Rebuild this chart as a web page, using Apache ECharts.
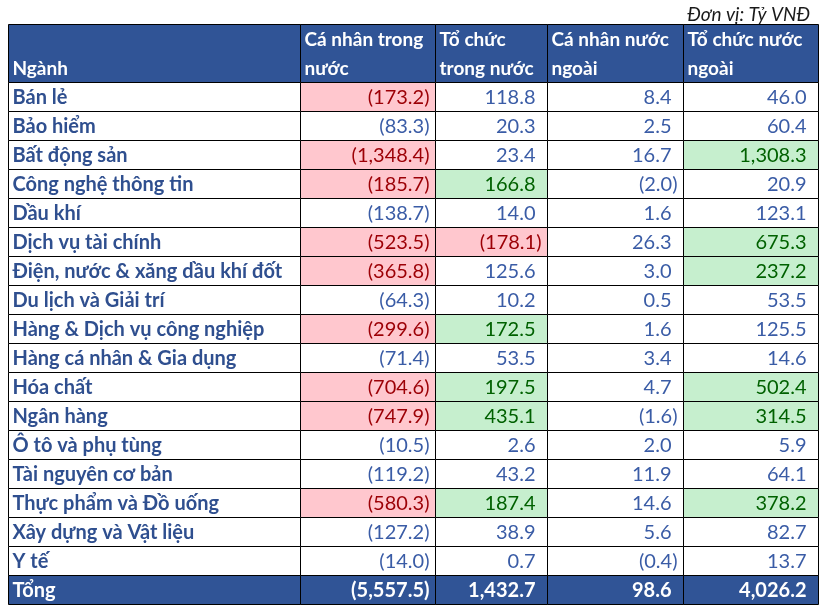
<!DOCTYPE html>
<html>
<head>
<meta charset="utf-8">
<script src="https://cdn.jsdelivr.net/npm/echarts@6/dist/echarts.min.js"></script>
<style>html,body{margin:0;padding:0;background:#fff}#c{width:829px;height:613px}</style>
</head>
<body>
<div id="c"></div>
<script>
const unitLabel = 'Đơn vị: Tỷ VNĐ';
const headers = ['Ngành', 'Cá nhân trong\nnước', 'Tổ chức\ntrong nước', 'Cá nhân nước\nngoài', 'Tổ chức nước\nngoài'];
const industries = ['Bán lẻ', 'Bảo hiểm', 'Bất động sản', 'Công nghệ thông tin', 'Dầu khí', 'Dịch vụ tài chính',
  'Điện, nước & xăng dầu khí đốt', 'Du lịch và Giải trí', 'Hàng & Dịch vụ công nghiệp', 'Hàng cá nhân & Gia dụng',
  'Hóa chất', 'Ngân hàng', 'Ô tô và phụ tùng', 'Tài nguyên cơ bản', 'Thực phẩm và Đồ uống', 'Xây dựng và Vật liệu', 'Y tế'];
const caNhanTrongNuoc = [-173.2, -83.3, -1348.4, -185.7, -138.7, -523.5, -365.8, -64.3, -299.6, -71.4, -704.6, -747.9, -10.5, -119.2, -580.3, -127.2, -14.0];
const toChucTrongNuoc = [118.8, 20.3, 23.4, 166.8, 14.0, -178.1, 125.6, 10.2, 172.5, 53.5, 197.5, 435.1, 2.6, 43.2, 187.4, 38.9, 0.7];
const caNhanNuocNgoai = [8.4, 2.5, 16.7, -2.0, 1.6, 26.3, 3.0, 0.5, 1.6, 3.4, 4.7, -1.6, 2.0, 11.9, 14.6, 5.6, -0.4];
const toChucNuocNgoai = [46.0, 60.4, 1308.3, 20.9, 123.1, 675.3, 237.2, 53.5, 125.5, 14.6, 502.4, 314.5, 5.9, 64.1, 378.2, 82.7, 13.7];
const totalLabel = 'Tổng';
const totals = [-5557.5, 1432.7, 98.6, 4026.2];

// layout (not data)
const colEdges = [0, 292, 427, 539, 675, 810];
const HL = 150; // highlight threshold used by the source's conditional formatting
const C = {
  head: '#305496', name: '#2F4F8F', val: '#3A5CA6',
  redBg: '#FFC7CE', redFg: '#9C0006', grnBg: '#C6EFCE', grnFg: '#006100'
};
const FONT = 'Lato';
const FS = 20;
const FS_HEAD = 19;

const valueCols = [caNhanTrongNuoc, toChucTrongNuoc, caNhanNuocNgoai, toChucNuocNgoai];
const slots = ['h1', 'h2'].concat(industries).concat([totalLabel]);

function fmt(v) {
  const s = Math.abs(v).toLocaleString('en-US', {minimumFractionDigits: 1, maximumFractionDigits: 1});
  return v < 0 ? '(' + s + ')' : s;
}

const cells = [];
for (let c = 0; c < 5; c++) cells.push({value: [c, 0], kind: 'head', text: headers[c]});
industries.forEach((n, r) => {
  cells.push({value: [0, r + 2], kind: 'name', text: n});
  valueCols.forEach((arr, c) => cells.push({value: [c + 1, r + 2], kind: 'val', num: arr[r]}));
});
cells.push({value: [0, industries.length + 2], kind: 'totName', text: totalLabel});
totals.forEach((v, c) => cells.push({value: [c + 1, industries.length + 2], kind: 'totVal', num: v}));

function renderItem(params, api) {
  const d = cells[params.dataIndex];
  const col = d.value[0], slot = d.value[1];
  const bandH = api.size([0, 1])[1];
  const p0 = api.coord([colEdges[col], slot]);
  const p1 = api.coord([colEdges[col + 1], slot]);
  let x0 = Math.round(p0[0]) + 0.5, x1 = Math.round(p1[0]) + 0.5;
  let yTop = Math.round(p0[1] - bandH / 2) + 0.5;
  let h = Math.round(bandH);
  let bg = '#fff', fg = C.val, bold = false, align = 'right', text = d.text, fs = FS;
  if (d.kind === 'head') { h = h * 2; bg = C.head; fg = '#fff'; bold = true; align = 'left'; fs = FS_HEAD; if (col === 0) text = ' \n' + text; }
  else if (d.kind === 'name') { fg = C.name; bold = true; align = 'left'; }
  else if (d.kind === 'totName') { bg = C.head; fg = '#fff'; bold = true; align = 'left'; }
  else if (d.kind === 'totVal') { bg = C.head; fg = '#fff'; bold = true; text = fmt(d.num); }
  else {
    text = fmt(d.num);
    if (d.num <= -HL) { bg = C.redBg; fg = C.redFg; }
    else if (d.num >= HL) { bg = C.grnBg; fg = C.grnFg; }
  }
  const neg = d.num !== undefined && d.num < 0;
  const tx = align === 'left' ? x0 + 4 : x1 - (neg ? 6 : 12);
  const ty = yTop + h / 2 + 1;
  return {
    type: 'group',
    children: [
      {type: 'rect', shape: {x: x0, y: yTop, width: x1 - x0, height: h},
        style: {fill: bg, stroke: '#000', lineWidth: 1}},
      {type: 'text', x: tx, y: ty,
        style: {text: text, fill: fg, align: align, verticalAlign: 'middle',
          font: (bold ? 'bold ' : '') + fs + 'px ' + FONT, lineHeight: bandH}}
    ]
  };
}

const chart = echarts.init(document.getElementById('c'));
chart.setOption({
  animation: false,
  title: {text: unitLabel, right: 14, top: 0,
    textStyle: {fontFamily: FONT, fontStyle: 'italic', fontWeight: 'normal', fontSize: 19, color: '#1a1a1a'}},
  grid: {left: 8, right: 11, top: 24, bottom: 9},
  xAxis: {type: 'value', min: 0, max: colEdges[colEdges.length - 1], show: false},
  yAxis: {type: 'category', data: slots, inverse: true, show: false},
  series: [{type: 'custom', renderItem: renderItem, data: cells, clip: false, silent: true}]
});
</script>
</body>
</html>
